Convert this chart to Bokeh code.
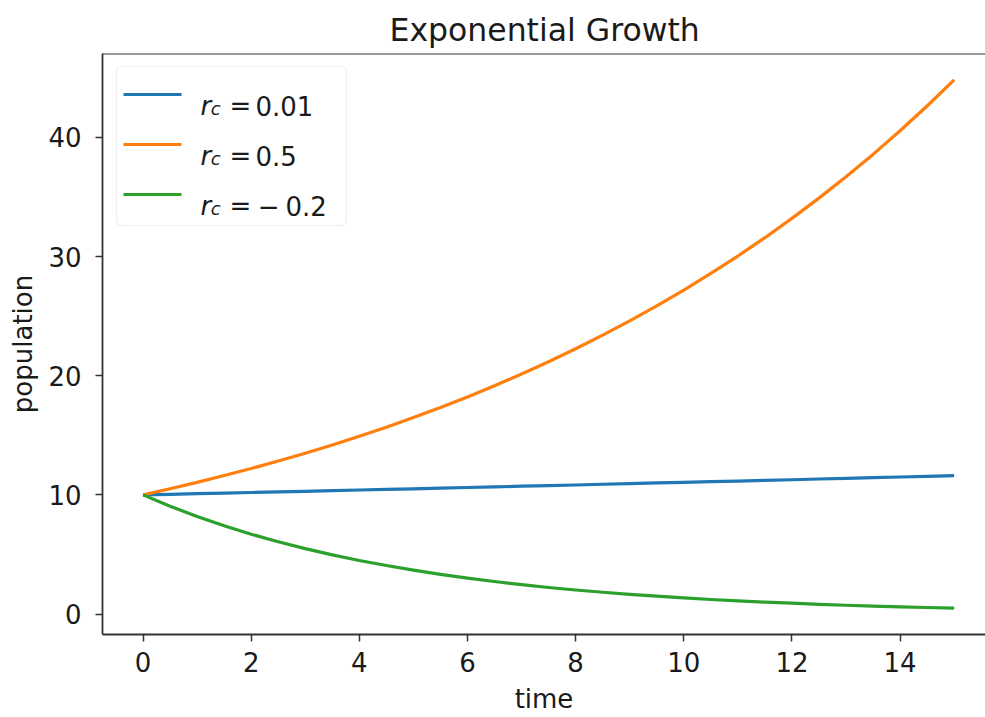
from bokeh.plotting import figure
from bokeh.models import Range1d, FixedTicker, BoxAnnotation, Label, Span
from bokeh.embed import file_html
from bokeh.resources import INLINE

# ---- data ----
time = [0, 0.5, 1, 1.5, 2, 2.5, 3, 3.5, 4, 4.5, 5, 5.5, 6, 6.5, 7, 7.5,
        8, 8.5, 9, 9.5, 10, 10.5, 11, 11.5, 12, 12.5, 13, 13.5, 14, 14.5, 15]
pop_r001 = [10.00, 10.05, 10.10, 10.15, 10.20, 10.25, 10.30, 10.35, 10.41, 10.46,
            10.51, 10.56, 10.62, 10.67, 10.73, 10.78, 10.83, 10.89, 10.94, 11.00,
            11.05, 11.11, 11.16, 11.22, 11.27, 11.33, 11.39, 11.45, 11.50, 11.56, 11.62]
pop_r05 = [10.00, 10.51, 11.05, 11.62, 12.21, 12.84, 13.50, 14.19, 14.92, 15.68,
           16.49, 17.33, 18.22, 19.16, 20.14, 21.17, 22.26, 23.40, 24.60, 25.86,
           27.18, 28.58, 30.04, 31.58, 33.20, 34.90, 36.69, 38.57, 40.55, 42.63, 44.82]
pop_rm02 = [10.00, 9.05, 8.19, 7.41, 6.70, 6.07, 5.49, 4.97, 4.49, 4.07,
            3.68, 3.33, 3.01, 2.73, 2.47, 2.23, 2.02, 1.83, 1.65, 1.50,
            1.35, 1.22, 1.11, 1.00, 0.91, 0.82, 0.74, 0.67, 0.61, 0.55, 0.50]
series = [pop_r001, pop_r05, pop_rm02]
series_values = ["0.01", "0.5", "\u22120.2"]
series_colors = ["#1f77b4", "#ff7f0e", "#2ca02c"]
x_ticks = [0, 2, 4, 6, 8, 10, 12, 14]
y_ticks = [0, 10, 20, 30, 40]

FONT = "DejaVu Sans"
TXT = "#1a1a1a"
AX = "#333333"

# ranges (matplotlib-like 5% margins; right side cropped as in the picture)
ymin = min(min(s) for s in series)
ymax = max(max(s) for s in series)
ypad = 0.05 * (ymax - ymin)
x0, x1 = -0.75, 15.58
y0, y1 = ymin - ypad, ymax + ypad

p = figure(frame_width=883, frame_height=581, output_backend="svg", toolbar_location=None,
           x_range=Range1d(x0, x1), y_range=Range1d(y0, y1),
           min_border_left=102, min_border_right=0, min_border_top=53,
           min_border_bottom=83, title="Exponential Growth")

p.title.align = "left"
p.title.offset = 287
p.title.text_font = FONT
p.title.text_font_size = "31.5px"
p.title.text_font_style = "normal"
p.title.text_color = TXT
p.title.standoff = 11

p.outline_line_color = None
p.grid.visible = False
p.background_fill_color = "white"
p.border_fill_color = "white"

for ax in (p.xaxis[0], p.yaxis[0]):
    ax.axis_line_color = AX
    ax.axis_line_width = 1.8
    ax.major_tick_line_color = AX
    ax.major_tick_line_width = 1.5
    ax.major_tick_out = 7
    ax.major_tick_in = 0
    ax.minor_tick_out = 0
    ax.minor_tick_in = 0
    ax.major_label_text_font = FONT
    ax.major_label_text_font_size = "26px"
    ax.major_label_text_color = TXT
    ax.axis_label_text_font = FONT
    ax.axis_label_text_font_size = "26px"
    ax.axis_label_text_font_style = "normal"
    ax.axis_label_text_color = TXT

p.xaxis.ticker = FixedTicker(ticks=x_ticks)
p.yaxis.ticker = FixedTicker(ticks=y_ticks)
p.xaxis.axis_label = "time"
p.yaxis.axis_label = "population"
p.xaxis.major_label_standoff = 10
p.xaxis.axis_label_standoff = 9
p.yaxis.major_label_standoff = 14
p.yaxis.axis_label_standoff = 7

p.add_layout(Span(location=y1, dimension="width", line_color=AX, line_width=1.8))

for vals, col in zip(series, series_colors):
    p.line(time, vals, line_color=col, line_width=3.2, line_join="round")

# ---- legend (drawn by hand because of the subscripted r_c) ----
FL, FR, FT, FB = 102.0, 985.0, 53.0, 634.0  # frame edges in picture px


def xd(px):
    return x0 + (px - FL) / (FR - FL) * (x1 - x0)


def yd(py):
    return y1 - (py - FT) / (FB - FT) * (y1 - y0)


p.add_layout(BoxAnnotation(left=xd(116), right=xd(346), top=yd(66), bottom=yd(225),
                           fill_color="white", fill_alpha=0.8,
                           line_color="#cccccc", line_width=1.2, border_radius=5))

row_base = [105, 155, 205]
for i, (val, col) in enumerate(zip(series_values, series_colors)):
    b = row_base[i]
    mid = b - 11
    p.add_layout(BoxAnnotation(left=xd(123), right=xd(181), top=yd(mid - 1.6),
                               bottom=yd(mid + 1.6), fill_color=col, fill_alpha=1.0,
                               line_color=None))
    p.add_layout(Label(x=xd(200), y=yd(b), text="r", text_font=FONT,
                       text_font_style="italic", text_font_size="26px",
                       text_color=TXT, text_baseline="alphabetic"))
    p.add_layout(Label(x=xd(210.3), y=yd(b + 3), text="c", text_font=FONT,
                       text_font_style="italic", text_font_size="18px",
                       text_color=TXT, text_baseline="alphabetic"))
    p.add_layout(Label(x=xd(229), y=yd(b), text="=", text_font=FONT,
                       text_font_size="26px", text_color=TXT,
                       text_baseline="alphabetic"))
    if val.startswith("\u2212"):
        p.add_layout(Label(x=xd(257.2), y=yd(b), text="\u2212", text_font=FONT,
                           text_font_size="26px", text_color=TXT,
                           text_baseline="alphabetic"))
        p.add_layout(Label(x=xd(285), y=yd(b), text=val[1:], text_font=FONT,
                           text_font_size="26px", text_color=TXT,
                           text_baseline="alphabetic"))
    else:
        p.add_layout(Label(x=xd(255), y=yd(b), text=val, text_font=FONT,
                           text_font_size="26px", text_color=TXT,
                           text_baseline="alphabetic"))

open("out.html", "w").write(file_html(p, INLINE))
